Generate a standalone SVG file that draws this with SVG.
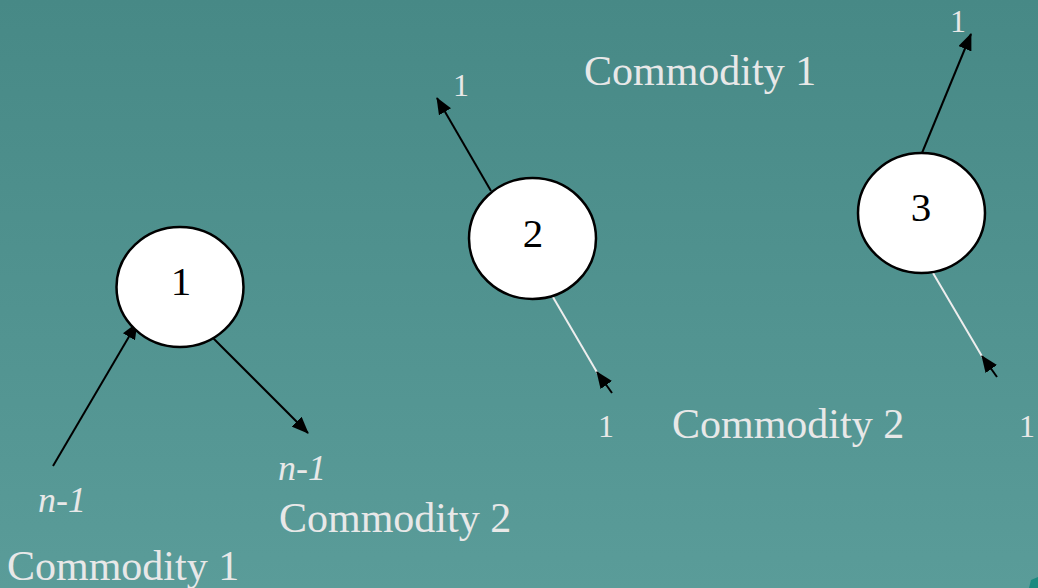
<svg xmlns="http://www.w3.org/2000/svg" width="1038" height="588" viewBox="0 0 1038 588">
  <defs>
    <linearGradient id="bg" x1="0" y1="0" x2="0" y2="1">
      <stop offset="0" stop-color="#478986"/>
      <stop offset="1" stop-color="#5a9c99"/>
    </linearGradient>
    <marker id="ah" viewBox="0 0 17 14" refX="16" refY="7" markerWidth="17" markerHeight="14" markerUnits="userSpaceOnUse" orient="auto">
      <path d="M0,0 L17,7 L0,14 z" fill="#000"/>
    </marker>
    <style>
      .node { fill: #fff; stroke: #000; stroke-width: 2.5; }
      .nlabel { font-family: "Liberation Serif", "Times New Roman", "DejaVu Serif", serif; font-size: 41px; fill: #000; text-anchor: middle; }
      .lbl { font-family: "Liberation Serif", "Times New Roman", "DejaVu Serif", serif; fill: #e8e8e8; }
      .big { font-size: 42px; }
      .one { font-size: 32px; }
      .ital { font-size: 36px; font-style: italic; }
      .blk { stroke: #000; stroke-width: 2; fill: none; marker-end: url(#ah); }
      .wht { stroke: #eeeeee; stroke-width: 2; fill: none; }
    </style>
  </defs>
  <rect x="0" y="0" width="1038" height="588" fill="url(#bg)"/>
  <path d="M1038,577 L1031,580 L1029,588 L1038,588 z" fill="#1c8a80"/>

  <g id="connectors">
    <line class="blk" x1="53" y1="466" x2="137" y2="323"/>
    <line class="blk" x1="213" y1="338" x2="308" y2="433"/>
    <line class="blk" x1="491" y1="191" x2="437" y2="98"/>
    <line class="wht" x1="550" y1="292" x2="598" y2="374"/>
    <line class="blk" x1="612" y1="393" x2="597" y2="372"/>
    <line class="blk" x1="922" y1="153" x2="971" y2="34"/>
    <line class="wht" x1="933" y1="273" x2="983" y2="358"/>
    <line class="blk" x1="997" y1="377" x2="982" y2="356"/>
  </g>

  <g id="node1">
    <ellipse class="node" cx="180" cy="287" rx="63.5" ry="60"/>
    <text class="nlabel" x="181" y="295">1</text>
  </g>
  <g id="node2">
    <ellipse class="node" cx="532.5" cy="238.5" rx="63.5" ry="60.5"/>
    <text class="nlabel" x="533" y="247">2</text>
  </g>
  <g id="node3">
    <ellipse class="node" cx="921.5" cy="213" rx="63.5" ry="60"/>
    <text class="nlabel" x="921" y="221">3</text>
  </g>

  <g id="labels">
    <text class="lbl big" x="584" y="85">Commodity 1</text>
    <text class="lbl big" x="672" y="438">Commodity 2</text>
    <text class="lbl big" x="279" y="532">Commodity 2</text>
    <text class="lbl big" x="7" y="580">Commodity 1</text>
    <text class="lbl ital" x="38" y="512">n-1</text>
    <text class="lbl ital" x="278" y="480">n-1</text>
    <text class="lbl one" x="453" y="96">1</text>
    <text class="lbl one" x="950" y="32">1</text>
    <text class="lbl one" x="598" y="437">1</text>
    <text class="lbl one" x="1019" y="437">1</text>
  </g>
</svg>
